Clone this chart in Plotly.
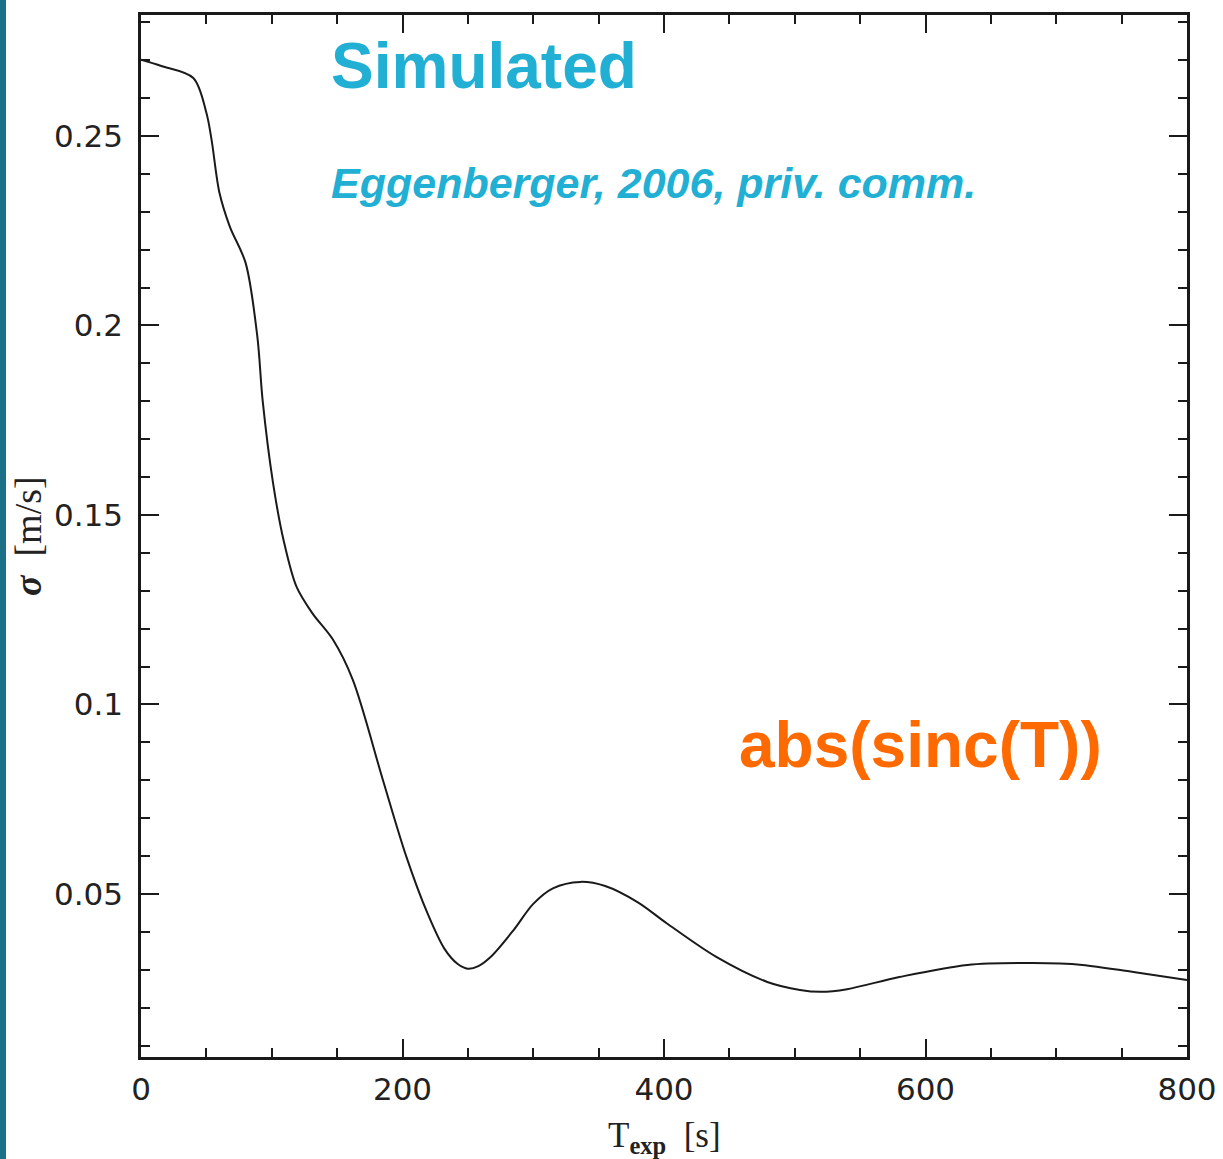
import plotly.graph_objects as go

# Exposure time [s] and resulting velocity scatter sigma [m/s]
t_exp = [0, 15, 40, 50, 54, 60, 68, 80, 89, 93, 101, 109, 119, 131, 147, 162,
         185, 203, 219, 232, 242, 250, 258, 268, 285, 300, 315, 336, 355, 380,
         402, 440, 479, 504, 520, 540, 580, 632, 682, 720, 759, 800]
sigma = [0.2701, 0.2685, 0.2653, 0.2561, 0.2489, 0.2350, 0.2260, 0.2165, 0.1970,
         0.1803, 0.1584, 0.1434, 0.1310, 0.1241, 0.1170, 0.1065, 0.0801, 0.0598,
         0.0450, 0.0356, 0.0316, 0.0303, 0.0310, 0.0336, 0.0405, 0.0474, 0.0515,
         0.0532, 0.0521, 0.0478, 0.0423, 0.0334, 0.0268, 0.0247, 0.0242, 0.0249,
         0.0281, 0.0313, 0.0318, 0.0313, 0.0294, 0.0273]

x_ticks = [0, 200, 400, 600, 800]
y_ticks = [0.05, 0.1, 0.15, 0.2, 0.25]
y_tick_text = ["0.05", "0.1", "0.15", "0.2", "0.25"]

CYAN = "#21b0d3"
ORANGE = "#ff6a00"
INK = "#1a1a1a"

fig = go.Figure()
fig.add_trace(go.Scatter(
    x=t_exp, y=sigma, mode="lines",
    line=dict(color=INK, width=2, shape="spline", smoothing=0.9),
    hoverinfo="skip", showlegend=False,
))

axis_common = dict(
    showline=True, linecolor=INK, linewidth=2.5, mirror="allticks",
    ticks="inside", ticklen=18, tickwidth=2, tickcolor=INK,
    showgrid=False, zeroline=False, automargin=False,
    tickfont=dict(family="DejaVu Sans", size=31, color="#222222"),
)

fig.update_xaxes(
    range=[0, 800], tickvals=x_ticks,
    minor=dict(dtick=50, ticks="inside", ticklen=9, tickwidth=2, tickcolor=INK, showgrid=False),
    ticklabelstandoff=3,
    **axis_common,
)
fig.update_yaxes(
    range=[0.007, 0.2819], tickvals=y_ticks, ticktext=y_tick_text,
    minor=dict(dtick=0.01, tick0=0, ticks="inside", ticklen=9, tickwidth=2, tickcolor=INK, showgrid=False),
    ticklabelstandoff=9,
    **axis_common,
)

annotations = [
    dict(x=144, y=0.2685, xref="x", yref="y", xanchor="left", yanchor="middle",
         text="<b>Simulated</b>", showarrow=False,
         font=dict(family="Liberation Sans", size=64, color=CYAN)),
    dict(x=144, y=0.2376, xref="x", yref="y", xanchor="left", yanchor="middle",
         text="<b><i>Eggenberger, 2006, priv. comm.</i></b>", showarrow=False,
         font=dict(family="Liberation Sans", size=43, color=CYAN)),
    dict(x=596, y=0.0893, xref="x", yref="y", xanchor="center", yanchor="middle",
         text="<b>abs(sinc(T))</b>", showarrow=False,
         font=dict(family="Liberation Sans", size=64, color=ORANGE)),
    dict(x=400, y=-0.077, xref="x", yref="paper", xanchor="center", yanchor="middle",
         text="T<sub><b>exp</b></sub>&nbsp;&nbsp;[s]", showarrow=False,
         font=dict(family="Liberation Serif", size=35, color="#222222")),
    dict(x=-0.108, y=0.5, xref="paper", yref="paper", xanchor="center", yanchor="middle",
         text="<b><i>σ</i></b>&nbsp;&nbsp;[m/s]", showarrow=False, textangle=-90,
         font=dict(family="Liberation Serif", size=38, color="#222222")),
]

# Dark teal slide edge on the far left
shapes = [
    dict(type="rect", xref="paper", yref="paper",
         x0=-141 / 1046, x1=-135 / 1046, y0=-0.2, y1=1.05,
         fillcolor="#1b6f87", line=dict(width=0), layer="above"),
]

fig.update_layout(
    width=1223, height=1159,
    margin=dict(l=141, r=36, t=15, b=102, pad=0, autoexpand=False),
    paper_bgcolor="white", plot_bgcolor="white",
    annotations=annotations, shapes=shapes,
)

fig.write_html("out.html")
